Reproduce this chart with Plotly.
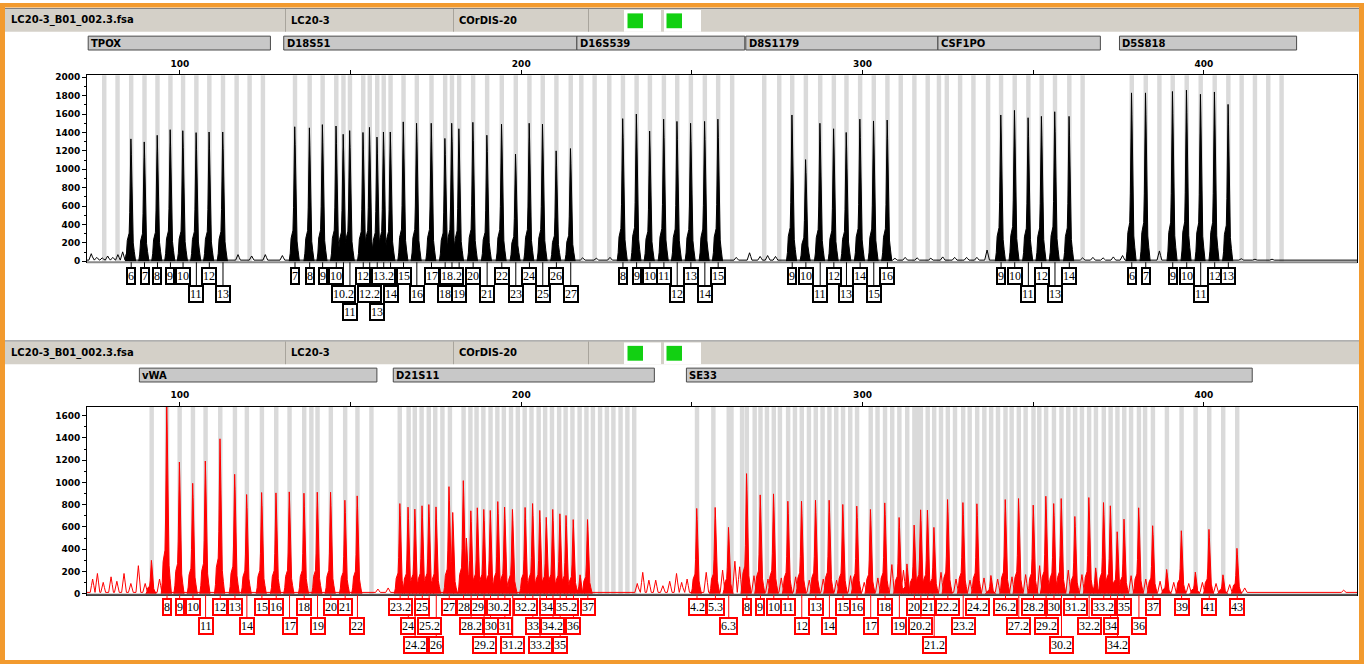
import plotly.graph_objects as go

W, H = 1364, 668

# ---------------------------------------------------------------- data
# ---- top panel (black dye) ----
tpox_alleles = ['6', '7', '8', '9', '10', '11', '12', '13']
tpox_sizes = [85.7, 89.6, 93.4, 97.2, 100.9, 104.8, 108.6, 112.6]
tpox_heights = [1330, 1297, 1369, 1430, 1419, 1398, 1405, 1405]
tpox_tiers = [0, 0, 0, 0, 0, 1, 0, 1]

d18_alleles = ['7', '8', '9', '10', '10.2', '11', '12', '12.2', '13', '13.2', '14', '15', '16',
               '17', '18', '18.2', '19', '20', '21', '22', '23', '24', '25', '26', '27']
d18_sizes = [133.7, 138.0, 141.8, 145.8, 147.9, 149.8, 153.7, 155.6, 157.8, 159.7, 161.7, 165.5,
             169.4, 173.7, 177.7, 179.7, 181.8, 185.9, 190.0, 194.3, 198.4, 202.4, 206.3, 210.3, 214.5]
d18_heights = [1462, 1450, 1485, 1470, 1380, 1420, 1400, 1455, 1350, 1405, 1405, 1515, 1500,
               1500, 1335, 1500, 1440, 1510, 1370, 1490, 1165, 1500, 1490, 1200, 1225]
d18_tiers = [0, 0, 0, 0, 1, 2, 0, 1, 2, 0, 1, 0, 1, 0, 1, 0, 1, 0, 1, 0, 1, 0, 1, 0, 1]

d16_alleles = ['8', '9', '10', '11', '12', '13', '14', '15']
d16_sizes = [229.8, 233.8, 237.7, 241.8, 245.7, 249.7, 253.8, 257.7]
d16_heights = [1550, 1600, 1415, 1545, 1520, 1500, 1520, 1545]
d16_tiers = [0, 0, 0, 0, 1, 0, 1, 0]

d8_alleles = ['9', '10', '11', '12', '13', '14', '15', '16']
d8_sizes = [279.4, 283.4, 287.6, 291.6, 295.3, 299.3, 303.3, 307.3]
d8_heights = [1590, 1105, 1500, 1440, 1400, 1545, 1525, 1535]
d8_tiers = [0, 0, 1, 0, 1, 0, 1, 0]

csf_alleles = ['9', '10', '11', '12', '13', '14']
csf_sizes = [340.6, 344.6, 348.6, 352.5, 356.4, 360.6]
csf_heights = [1590, 1640, 1560, 1575, 1625, 1575]
csf_tiers = [0, 0, 1, 0, 1, 0]

d5_alleles = ['6', '7', '9', '10', '11', '12', '13']
d5_sizes = [378.9, 383.0, 390.9, 395.0, 399.1, 403.2, 407.2]
d5_heights = [1830, 1830, 1845, 1860, 1815, 1840, 1705]
d5_tiers = [0, 0, 0, 0, 1, 0, 0]

top_bins = [77.8, 81.7, 85.7, 89.6, 93.4, 97.2, 100.9, 104.8, 108.6, 112.6, 116.6, 120.4, 124.3,
            133.7, 138.0, 141.8, 145.8, 147.9, 149.8, 153.7, 155.6, 157.8, 159.7, 161.7, 165.5,
            169.4, 173.7, 177.7, 179.7, 181.8, 185.9, 190.0, 194.3, 198.4, 202.4, 206.3, 210.3,
            214.5, 217.6, 221.5, 225.8,
            229.8, 233.8, 237.7, 241.8, 245.7, 249.7, 253.8, 257.7, 261.8,
            271.2, 275.6, 279.4, 283.4, 287.6, 291.6, 295.3, 299.3, 303.3, 307.3, 311.2, 315.2,
            319.1, 322.4,
            324.7, 328.6, 332.5, 336.8, 340.6, 344.6, 348.6, 352.5, 356.4, 360.6, 364.5,
            378.9, 383.0, 387.0, 390.9, 395.0, 399.1, 403.2, 407.2, 411.1, 415.0, 418.9, 422.8]

top_noise_pos = [74.0, 75.6, 77.2, 78.8, 80.3, 81.8, 83.2, 84.4, 117.0, 121.0, 125.0, 130.0,
                 218.0, 222.0, 226.0, 263.0, 266.9, 270.0, 272.2, 274.5, 309.5, 312.5, 316.0,
                 320.0, 323.5, 327.0, 330.5, 333.5, 336.5, 364.5, 367.5, 370.5, 373.5, 376.2,
                 387.0, 411.0, 415.0, 420.0]
top_noise_height = [70, 30, 25, 45, 30, 60, 90, 80, 60, 45, 60, 50,
                    25, 20, 30, 30, 80, 40, 50, 40, 20, 30, 25,
                    20, 35, 30, 30, 30, 110, 25, 30, 25, 35, 50,
                    100, 15, 10, 10]

# ---- bottom panel (red dye) ----
vwa_alleles = ['8', '9', '10', '11', '12', '13', '14', '15', '16', '17', '18', '19', '20', '21', '22']
vwa_sizes = [96.2, 99.9, 103.8, 107.5, 111.8, 116.1, 119.6, 124.0, 128.2, 132.1, 136.4, 140.3,
             144.2, 148.4, 152.0]
vwa_heights = [1700, 1183, 992, 1192, 1392, 1073, 891, 909, 906, 915, 903, 912, 912, 840, 879]
vwa_tiers = [0, 0, 0, 1, 0, 0, 1, 0, 0, 1, 0, 1, 0, 0, 1]

d21_alleles = ['23.2', '24', '24.2', '25', '25.2', '26', '27', '28', '28.2', '29', '29.2', '30',
               '30.2', '31', '31.2', '32.2', '33', '33.2', '34', '34.2', '35', '35.2', '36', '37']
d21_sizes = [164.5, 166.9, 168.9, 171.0, 173.0, 175.1, 178.9, 183.1, 185.3, 187.2, 189.1, 191.0,
             193.2, 195.2, 197.5, 201.2, 203.4, 205.5, 207.4, 209.3, 211.4, 213.2, 215.3, 219.5]
d21_heights = [810, 778, 760, 790, 801, 780, 962, 1016, 745, 772, 757, 748,
               828, 778, 757, 775, 810, 748, 686, 757, 718, 703, 666, 666]
d21_tiers = [0, 1, 2, 0, 1, 2, 0, 0, 1, 0, 2, 1, 0, 1, 2, 0, 1, 2, 0, 1, 2, 0, 1, 0]

se33_alleles = ['4.2', '5.3', '6.3', '8', '9', '10', '11', '12', '13', '14', '15', '16', '17',
                '18', '19', '20', '20.2', '21', '21.2', '22.2', '23.2', '24.2', '26.2', '27.2',
                '28.2', '29.2', '30', '30.2', '31.2', '32.2', '33.2', '34', '34.2', '35', '36',
                '37', '39', '41', '43']
se33_sizes = [251.5, 256.9, 260.8, 266.1, 270.1, 274.0, 278.2, 282.2, 286.3, 290.3, 294.3, 298.4,
              302.4, 306.6, 310.8, 315.2, 317.1, 319.1, 321.0, 325.0, 329.5, 333.6, 341.9, 345.8,
              350.1, 353.8, 356.1, 358.3, 362.3, 366.4, 370.7, 372.7, 374.7, 376.7, 381.0, 385.1,
              393.5, 401.6, 409.8]
se33_heights = [766, 775, 596, 1079, 888, 897, 831, 831, 840, 840, 802, 787, 757, 816, 685, 617,
                754, 751, 596, 846, 819, 808, 846, 855, 796, 876, 810, 855, 694, 864, 819, 790,
                557, 670, 772, 611, 566, 578, 408]
se33_tiers = [0, 0, 1, 0, 0, 0, 0, 1, 0, 1, 0, 0, 1, 0, 1, 0, 1, 0, 2, 0, 1, 0, 0, 1, 0, 1, 0,
              2, 0, 1, 0, 1, 2, 0, 1, 0, 0, 0, 0]

bottom_extra_pos = [91.7, 180.0, 184.0, 217.3, 313.1, 337.7, 368.4, 389.2, 397.6, 405.7]
bottom_extra_height = [300, 730, 500, 170, 268, 164, 232, 218, 194, 170]

bottom_bins = [91.7, 96.2, 99.9, 103.8, 107.5, 111.8, 116.1, 119.6, 124.0, 128.2, 132.1, 136.4,
               138.5, 140.3, 144.2, 148.4, 152.0, 156.1,
               164.4, 167.0, 168.8, 170.8, 172.9, 174.8, 176.9, 179.1, 183.1, 185.1, 186.9, 188.9,
               191.0, 193.0, 194.9, 197.0, 199.0, 201.0, 203.0, 205.1, 207.0, 209.0, 211.1, 213.0,
               215.0, 217.1, 219.1, 221.0, 223.1, 225.1, 227.0, 229.1, 231.1, 233.1,
               251.5, 256.3, 260.8, 261.6, 264.7, 266.1, 268.4, 270.1, 272.0, 274.0, 275.8, 278.2,
               280.2, 282.2, 284.3, 286.3, 288.3, 290.3, 292.3, 294.3, 296.4, 298.4, 302.4, 304.4,
               306.6, 308.7, 310.8, 313.1, 315.2, 316.2, 317.1, 319.1, 321.0, 323.0, 325.0, 327.1,
               329.5, 331.4, 333.6, 335.7, 337.7, 339.7, 341.9, 343.7, 345.8, 347.8, 350.1, 351.8,
               353.8, 356.1, 358.3, 360.3, 362.3, 364.3, 366.4, 368.4, 370.7, 372.7, 374.7, 376.7,
               378.7, 381.0, 382.8, 385.1, 389.2, 393.5, 397.6, 401.6, 405.7, 409.8]

bottom_noise_pos = [74.4, 75.8, 77.5, 79.8, 81.5, 83.6, 85.6, 87.8, 89.8, 94.0, 158.0, 161.0,
                    234.0, 235.6, 237.4, 239.4, 241.5, 243.5, 245.5, 247.0, 248.6,
                    254.2, 259.0, 262.6, 264.0, 268.2, 272.3, 276.2, 280.4, 284.4, 288.5, 292.4,
                    296.5, 300.5, 304.5, 308.6, 312.0, 323.0, 327.4, 331.5, 335.6, 339.6, 343.8,
                    347.8, 351.9, 360.3, 364.3, 378.7, 383.0, 387.2, 391.2, 395.6, 399.6, 403.6,
                    407.6, 412.0, 441.0]
bottom_noise_height = [120, 170, 90, 140, 100, 170, 80, 240, 80, 120, 30, 40,
                       80, 180, 110, 110, 60, 100, 170, 90, 120,
                       180, 200, 280, 230, 150, 120, 130, 140, 110, 120, 110,
                       150, 90, 130, 250, 200, 180, 120, 110, 130, 120, 140,
                       160, 240, 200, 160, 150, 120, 100, 90, 80, 90, 80,
                       70, 40, 20]

# ---- loci (name, size range in bp) ----
top_loci = ['TPOX', 'D18S51', 'D16S539', 'D8S1179', 'CSF1PO', 'D5S818']
top_loci_start = [73.1, 130.4, 216.3, 265.8, 322.1, 375.3]
top_loci_end = [126.5, 216.3, 265.5, 322.1, 369.7, 427.2]
bottom_loci = ['vWA', 'D21S11', 'SE33']
bottom_loci_start = [88.1, 162.5, 248.4]
bottom_loci_end = [157.7, 239.0, 414.2]

header_texts = ['LC20-3_B01_002.3.fsa', 'LC20-3', 'COrDIS-20']

x_tickvals = [100, 150, 200, 250, 300, 350, 400]
x_ticktext = ['100', '', '200', '', '300', '', '400']

# ---------------------------------------------------------------- layout constants (pixels)
PLOT_L, PLOT_R = 87, 1357
PANELS = {
    'top': dict(t=73, b=262, hdr=6, locus=(33.5, 47.5), rows=(276.3, 294.5, 312.5),
                yrange=[-11, 2022], color='black', label_color='black'),
    'bot': dict(t=408, b=598, hdr=342, locus=(369, 383), rows=(610.7, 629.5, 648.5),
                yrange=[-9, 1680], color='#FF0000', label_color='#FF0000'),
}
XRANGE = [72.75, 444.9]
ORANGE = '#F29A2E'
HDR_BG = '#D4D0C8'


def fx(p):
    return p / W


def fy(p):
    return 1 - p / H


PEAK_SHAPE = [(-1.7, 0.0), (-1.4, 0.06), (-1.15, 0.17), (-0.85, 0.22), (-0.6, 0.23),
              (-0.42, 0.4), (-0.25, 0.74), (-0.08, 1.0), (0.05, 0.87), (0.2, 0.56),
              (0.38, 0.3), (0.6, 0.15), (0.9, 0.08), (1.3, 0.0)]
BUMP_SHAPE = [(-0.7, 0.0), (-0.35, 0.5), (0.0, 1.0), (0.35, 0.5), (0.7, 0.0)]
BASE_LEVEL = 12
BIN_HALF = 0.65


def peak_path(sizes, heights):
    xs, ys = [], []
    for s, h in zip(sizes, heights):
        for dx, f in PEAK_SHAPE:
            xs.append(s + dx)
            ys.append(h * f)
        xs.append(None)
        ys.append(None)
    return xs, ys


def baseline_path(pos, hts):
    xs, ys = [XRANGE[0]], [BASE_LEVEL]
    for p, h in sorted(zip(pos, hts)):
        for dx, f in BUMP_SHAPE:
            x = p + dx
            if x > xs[-1]:
                xs.append(x)
                ys.append(BASE_LEVEL + h * f)
    xs.append(XRANGE[1])
    ys.append(BASE_LEVEL)
    return xs, ys


fig = go.Figure()
shapes = []
annotations = []

panel_data = {
    'top': dict(
        loci=[(tpox_alleles, tpox_sizes, tpox_heights, tpox_tiers),
              (d18_alleles, d18_sizes, d18_heights, d18_tiers),
              (d16_alleles, d16_sizes, d16_heights, d16_tiers),
              (d8_alleles, d8_sizes, d8_heights, d8_tiers),
              (csf_alleles, csf_sizes, csf_heights, csf_tiers),
              (d5_alleles, d5_sizes, d5_heights, d5_tiers)],
        extra=([], []),
        noise=(top_noise_pos, top_noise_height),
        bins=top_bins,
        names=top_loci, starts=top_loci_start, ends=top_loci_end),
    'bot': dict(
        loci=[(vwa_alleles, vwa_sizes, vwa_heights, vwa_tiers),
              (d21_alleles, d21_sizes, d21_heights, d21_tiers),
              (se33_alleles, se33_sizes, se33_heights, se33_tiers)],
        extra=(bottom_extra_pos, bottom_extra_height),
        noise=(bottom_noise_pos, bottom_noise_height),
        bins=bottom_bins,
        names=bottom_loci, starts=bottom_loci_start, ends=bottom_loci_end),
}

for i, key in enumerate(['top', 'bot']):
    P = PANELS[key]
    D = panel_data[key]
    xa = 'x' if i == 0 else 'x2'
    ya = 'y' if i == 0 else 'y2'
    # bins
    for b in D['bins']:
        shapes.append(dict(type='rect', xref=xa, yref=ya + ' domain', x0=b - BIN_HALF,
                           x1=b + BIN_HALF, y0=0, y1=1, fillcolor='#DADADA',
                           line=dict(width=0), layer='below'))
    # baseline noise
    bx, by = baseline_path(*D['noise'])
    fig.add_trace(go.Scatter(x=bx, y=by, mode='lines', xaxis=xa, yaxis=ya,
                             line=dict(color=P['color'], width=1), hoverinfo='skip'))
    # peaks
    all_s, all_h = list(D['extra'][0]), list(D['extra'][1])
    for al, sz, ht, tr in D['loci']:
        all_s += sz
        all_h += ht
    px_, py_ = peak_path(all_s, all_h)
    fig.add_trace(go.Scatter(x=px_, y=py_, mode='lines', fill='toself', xaxis=xa, yaxis=ya,
                             fillcolor=P['color'], line=dict(color=P['color'], width=1),
                             hoverinfo='skip'))
    # bottom grey frame line
    shapes.append(dict(type='line', xref=xa + ' domain', yref=ya + ' domain', x0=0, x1=1,
                       y0=0, y1=0, line=dict(color='#8A8A8A' if key == 'top' else '#555555',
                                             width=2), layer='above'))
    # allele labels
    for al, sz, ht, tr in D['loci']:
        for a, s, t in zip(al, sz, tr):
            yc = P['rows'][t]
            shapes.append(dict(type='line', xref=xa, yref='paper', x0=s, x1=s,
                               y0=fy(P['b']), y1=fy(yc - 8),
                               line=dict(color=P['label_color'], width=1)))
            annotations.append(dict(x=s, y=fy(yc), xref=xa, yref='paper', text=a,
                                    showarrow=False, xanchor='center', yanchor='middle',
                                    font=dict(family='Liberation Serif', size=12, color='black'),
                                    bgcolor='white', bordercolor=P['label_color'],
                                    borderwidth=2, borderpad=0))
    # header bar
    h0 = P['hdr']
    shapes.append(dict(type='rect', xref='paper', yref='paper', x0=fx(5), x1=fx(1359),
                       y0=fy(h0 + 23), y1=fy(h0), fillcolor=HDR_BG, line=dict(width=0)))
    shapes.append(dict(type='line', xref='paper', yref='paper', x0=fx(5), x1=fx(1359),
                       y0=fy(h0 - 0.5), y1=fy(h0 - 0.5), line=dict(color='#7A7A7A', width=1)))
    for xd in [285.5, 453.5, 588.5]:
        shapes.append(dict(type='line', xref='paper', yref='paper', x0=fx(xd), x1=fx(xd),
                           y0=fy(h0 + 23), y1=fy(h0), line=dict(color='#A8A49C', width=1)))
    for wx0, wx1, gx0, gx1 in [(624, 661, 627.5, 643), (664, 701, 666.5, 682)]:
        shapes.append(dict(type='rect', xref='paper', yref='paper', x0=fx(wx0), x1=fx(wx1),
                           y0=fy(h0 + 23), y1=fy(h0 + 1), fillcolor='white', line=dict(width=0)))
        shapes.append(dict(type='rect', xref='paper', yref='paper', x0=fx(gx0), x1=fx(gx1),
                           y0=fy(h0 + 19.5), y1=fy(h0 + 4.5), fillcolor='#12D012',
                           line=dict(width=0)))
    for txt, tx in zip(header_texts, [9, 289, 457]):
        annotations.append(dict(x=fx(tx), y=fy(h0 + 11.5), xref='paper', yref='paper',
                                text=txt, showarrow=False, xanchor='left', yanchor='middle',
                                font=dict(family='DejaVu Sans', size=10, color='black',
                                          weight='bold')))
    # locus bars
    ly0, ly1 = P['locus']
    for nm, s0, s1 in zip(D['names'], D['starts'], D['ends']):
        shapes.append(dict(type='rect', xref=xa, yref='paper', x0=s0, x1=s1,
                           y0=fy(ly1), y1=fy(ly0), fillcolor='#C8C8C8',
                           line=dict(color='#4A4A4A', width=1)))
        annotations.append(dict(x=s0, y=fy((ly0 + ly1) / 2), xref=xa, yref='paper',
                                text=nm, showarrow=False, xanchor='left', yanchor='middle',
                                xshift=1,
                                font=dict(family='DejaVu Sans', size=10, color='black',
                                          weight='bold')))

# orange window frame
for x0, x1, y0, y1 in [(0, 5, 0, H), (1359, W, 0, H), (0, W, 0, 4.5), (0, W, 664, H)]:
    shapes.append(dict(type='rect', xref='paper', yref='paper', x0=fx(x0), x1=fx(x1),
                       y0=fy(y1), y1=fy(y0), fillcolor=ORANGE, line=dict(width=0)))

tickfont = dict(family='DejaVu Sans', size=9, color='black', weight='bold')


def xaxis_cfg(anchor, P):
    return dict(domain=[fx(PLOT_L), fx(PLOT_R)], range=XRANGE, anchor=anchor, side='top',
                tickmode='array', tickvals=x_tickvals, ticktext=x_ticktext, ticks='outside',
                ticklen=4, tickcolor='black', tickwidth=1, showline=True, linecolor='black',
                linewidth=1, mirror=True, showgrid=False, zeroline=False, tickfont=tickfont,
                fixedrange=True)


def yaxis_cfg(anchor, P):
    return dict(domain=[fy(P['b']), fy(P['t'])], range=P['yrange'], anchor=anchor,
                tickmode='linear', tick0=0, dtick=200, ticks='outside', ticklen=4,
                tickcolor='black', tickwidth=1, showline=True, linecolor='black', linewidth=1,
                mirror=True, showgrid=False, zeroline=False, tickfont=tickfont,
                minor=dict(dtick=100, tick0=0, ticks='outside', ticklen=2, tickcolor='black',
                           showgrid=False),
                fixedrange=True)


fig.update_layout(
    width=W, height=H, margin=dict(l=0, r=0, t=0, b=0, pad=0),
    paper_bgcolor='white', plot_bgcolor='white', showlegend=False,
    xaxis=xaxis_cfg('y', PANELS['top']), yaxis=yaxis_cfg('x', PANELS['top']),
    xaxis2=xaxis_cfg('y2', PANELS['bot']), yaxis2=yaxis_cfg('x2', PANELS['bot']),
    shapes=shapes, annotations=annotations,
)

fig.write_html('out.html', config={'displayModeBar': False},
               post_script="document.body.style.margin='0';document.body.style.padding='0';"
                           "document.documentElement.style.overflow='hidden';")
